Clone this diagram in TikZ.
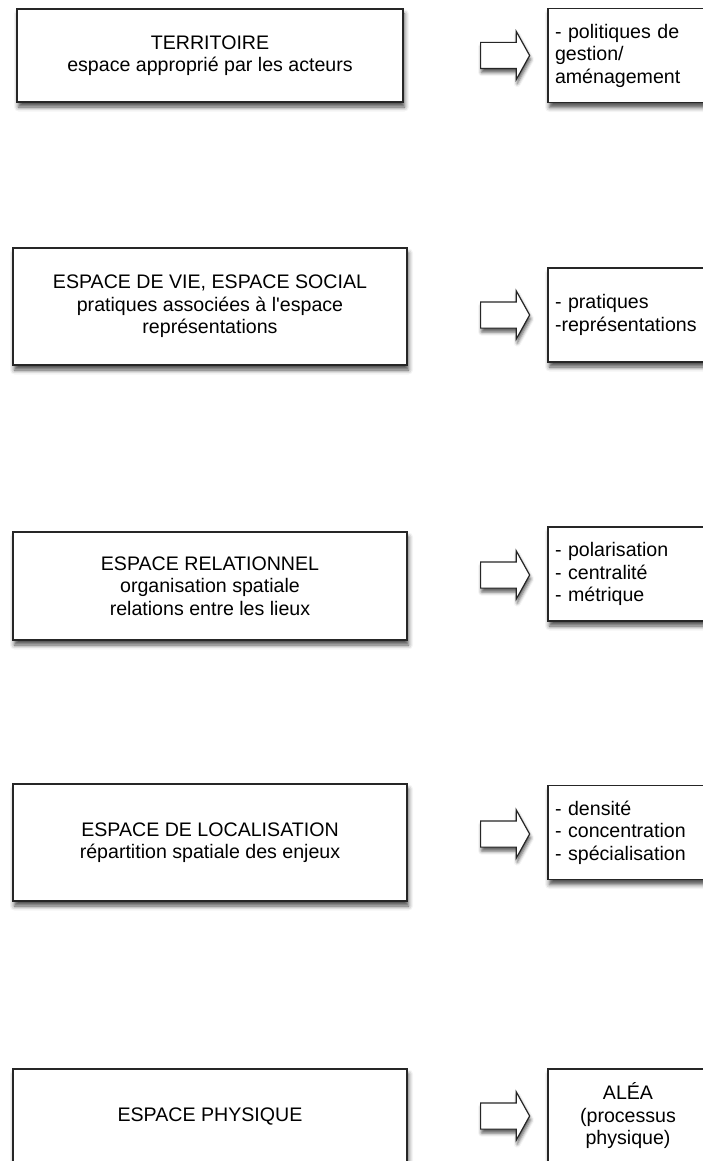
\documentclass[tikz,border=0pt]{standalone}
\usepackage{fontspec}
\setmainfont{Liberation Sans}[Ligatures=TeXOff]
\usetikzlibrary{shapes.arrows,shadows.blur}

\begin{document}
\begin{tikzpicture}[x=1pt,y=-1pt,
  box/.style={draw=black!85,line width=1.1pt,fill=white,align=center,
    font=\fontsize{19.6}{22.5}\selectfont,
    blur shadow={shadow xshift=1.5pt,shadow yshift=-5pt,shadow blur radius=4.5pt,shadow opacity=70}},
  outbox/.style={box,minimum width=160pt,minimum height=94pt,text width=146pt,inner xsep=7pt,align=left},
  bigarrow/.style={single arrow,draw=black!85,line width=1.2pt,fill=white,inner xsep=0pt,inner ysep=12.5pt,
    minimum height=49pt,single arrow head extend=11pt,single arrow tip angle=122,
    blur shadow={shadow xshift=1pt,shadow yshift=-4pt,shadow blur radius=3.5pt,shadow opacity=65}}]

\useasboundingbox (0,0) rectangle (703,1161);

\node[box,minimum width=386pt,minimum height=93pt] (terr) at (210,55.5)
  {TERRITOIRE\\espace approprié par les acteurs};
\node[box,minimum width=394pt,minimum height=117pt] (vie) at (210,306.5)
  {ESPACE DE VIE, ESPACE SOCIAL\\pratiques associées à l'espace\\représentations};
\node[box,minimum width=394pt,minimum height=108pt] (rel) at (210,586)
  {ESPACE RELATIONNEL\\organisation spatiale\\relations entre les lieux};
\node[box,minimum width=394pt,minimum height=117pt] (loc) at (210,842.5)
  {ESPACE DE LOCALISATION\\répartition spatiale des enjeux};
\node[box,minimum width=394pt,minimum height=94pt] (phys) at (210,1116)
  {ESPACE PHYSIQUE};

% colonne de droite
\node[outbox] (gest) at (628,55.5) {- politiques de\\gestion/\\aménagement};
\node[outbox] (prat) at (628,315) {- pratiques\\-représentations};
\node[outbox] (polar) at (628,574) {- polarisation\\- centralité\\- métrique};
\node[outbox] (dens) at (628,832.5) {- densité\\- concentration\\- spécialisation};
\node[outbox,align=center] (alea) at (628,1116) {ALÉA\\(processus\\physique)};

% flèches
\node[bigarrow] (a1) at (501.5,55.5) {};
\node[bigarrow] (a2) at (501.5,315) {};
\node[bigarrow] (a3) at (501.5,575) {};
\node[bigarrow] (a4) at (501.5,834) {};
\node[bigarrow] (a5) at (501.5,1116) {};

\end{tikzpicture}
\end{document}
